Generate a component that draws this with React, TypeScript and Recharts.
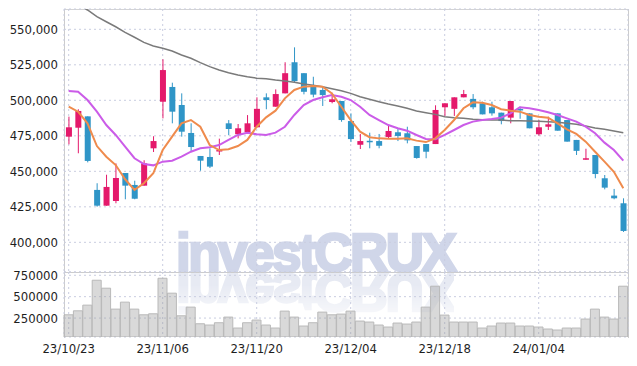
import { ComposedChart, Bar, Line, XAxis, YAxis, CartesianGrid } from 'recharts'

// trading days (KRX calendar)
const dates = [
  '23/10/23', '23/10/24', '23/10/25', '23/10/26', '23/10/27', '23/10/30', '23/10/31',
  '23/11/01', '23/11/02', '23/11/03', '23/11/06', '23/11/07', '23/11/08', '23/11/09', '23/11/10',
  '23/11/13', '23/11/14', '23/11/15', '23/11/16', '23/11/17', '23/11/20', '23/11/21', '23/11/22',
  '23/11/23', '23/11/24', '23/11/27', '23/11/28', '23/11/29', '23/11/30', '23/12/01',
  '23/12/04', '23/12/05', '23/12/06', '23/12/07', '23/12/08', '23/12/11', '23/12/12', '23/12/13',
  '23/12/14', '23/12/15', '23/12/18', '23/12/19', '23/12/20', '23/12/21', '23/12/22',
  '23/12/26', '23/12/27', '23/12/28', '24/01/02', '24/01/03', '24/01/04', '24/01/05',
  '24/01/08', '24/01/09', '24/01/10', '24/01/11', '24/01/12', '24/01/15', '24/01/16', '24/01/17',
]

const opens = [
  474400, 480700, 488700, 436900, 425800, 429100, 448800, 440400, 439900, 466200,
  499000, 509400, 496700, 477000, 460800, 460100, 464100, 483800, 476100, 477500,
  481000, 502100, 495500, 504900, 526800, 519100, 509600, 507300, 498800, 499500,
  485400, 468700, 471500, 471300, 474200, 477500, 476800, 467800, 469200, 469200,
  495100, 494000, 502100, 501000, 497900, 495100, 491300, 487800, 493900, 490800,
  476100, 481400, 490800, 486100, 472100, 458200, 461500, 445100, 432900, 427500,
]
const highs = [
  488500, 493700, 488700, 441600, 447600, 455600, 448800, 443400, 457800, 474700,
  528900, 512400, 504900, 483800, 460800, 466200, 473000, 486100, 483300, 489600,
  502100, 504900, 507700, 526800, 537300, 519100, 516600, 509600, 505300, 499500,
  490800, 476300, 477200, 476300, 482600, 480300, 481400, 467800, 469200, 496500,
  497900, 502100, 507300, 504400, 499000, 499000, 491300, 499500, 495500, 490800,
  486100, 488500, 490800, 486100, 472100, 465900, 461500, 447400, 437600, 431000,
]
const lows = [
  469000, 462700, 456300, 425100, 425800, 427500, 430300, 430300, 439900, 463600,
  487300, 483800, 474400, 463800, 450400, 452300, 461500, 475400, 473200, 477500,
  481000, 493700, 495500, 504900, 512900, 504200, 502100, 496000, 497900, 484900,
  470600, 465700, 466200, 466200, 472800, 471300, 469700, 458900, 459200, 469200,
  489000, 489000, 502100, 493700, 490100, 489200, 483100, 483800, 487000, 480300,
  475100, 479100, 478600, 470900, 461500, 458200, 445100, 437300, 430300, 407300,
]
const closes = [
  481000, 492500, 457300, 425800, 439000, 445300, 439900, 430700, 455600, 471300,
  521300, 492000, 477900, 467100, 457500, 453300, 465000, 479800, 480300, 483800,
  494000, 500200, 504400, 519100, 513500, 506000, 504000, 503700, 500700, 486100,
  472700, 471300, 471100, 468000, 478400, 474900, 471800, 459400, 463800, 493200,
  497900, 502100, 504400, 495100, 490100, 490800, 485400, 499500, 493500, 480300,
  481000, 483100, 478600, 470900, 464400, 459200, 448100, 438500, 431000, 408000,
]

const maShort = [
  495500, 492000, 483800, 467800, 460300, 454400, 444400, 436900, 441600, 448600,
  465000, 474400, 483800, 486100, 481400, 468500, 465000, 465500, 467800, 472100,
  481400, 488000, 492700, 501400, 507300, 509600, 510100, 509600, 504900, 495500,
  486100, 477900, 474000, 473200, 473000, 473000, 473200, 471600, 470600, 473200,
  479100, 486100, 494400, 498600, 498300, 496700, 493700, 492700, 492000, 489700,
  488500, 487800, 483800, 479600, 476300, 470900, 463800, 456800, 449700, 438000,
]
const maMid = [
  506600, 506100, 500200, 492000, 482600, 475600, 467300, 459200, 455100, 454200,
  456800, 457500, 460300, 463800, 466200, 466900, 468500, 472100, 475600, 477200,
  476100, 475600, 477200, 481400, 489700, 496700, 500200, 502100, 503700, 502500,
  500200, 495500, 489700, 486100, 482600, 480300, 478600, 475600, 472800, 472600,
  475600, 479100, 482600, 485000, 486100, 486800, 487800, 490800, 495100, 494400,
  493200, 491600, 489700, 487300, 485000, 481400, 476800, 470200, 465000, 457500,
]
const maLong = [
  572000, 567800, 563600, 558900, 555300, 551800, 547900, 544400, 540800, 538200,
  536600, 534700, 531900, 529600, 526500, 523700, 521300, 519400, 517800, 516600,
  515600, 515200, 514300, 513600, 512700, 511500, 510600, 509600, 508200, 506800,
  504900, 502500, 500700, 499000, 497400, 496000, 494400, 492500, 491300, 490100,
  488500, 487800, 487300, 486600, 486300, 486100, 486100, 485600, 485600, 485400,
  485200, 484900, 484500, 483800, 483100, 481900, 480500, 479600, 478400, 477200,
]

const volumes = [
  288400, 334900, 401200, 691900, 598800, 354600, 436000, 354600, 288400, 300000,
  715100, 540700, 276700, 377900, 183700, 168600, 195400, 261600, 133700, 195400,
  226700, 168600, 133700, 331400, 261600, 157000, 195400, 319800, 288400, 296500,
  331400, 215100, 203600, 168600, 145400, 191900, 180200, 203600, 377900, 622100,
  284900, 203600, 203600, 203600, 133700, 157000, 191900, 191900, 157000, 157000,
  145400, 122100, 110500, 133700, 133700, 238400, 354600, 261600, 238400, 622100,
]

const priceTicks = [400000, 425000, 450000, 475000, 500000, 525000, 550000]
const volumeTicks = [250000, 500000, 750000]
const dateTicks = [dates[0], dates[10], dates[20], dates[30], dates[40], dates[50]]

const UP = '#e4196b'
const DOWN = '#2f95c7'
const GRID = '#c9cde0'
const FONT = "'DejaVu Sans Condensed', 'Liberation Sans Narrow', sans-serif"
const tickStyle = { fontSize: 13, fill: '#1e1e1e', fontFamily: FONT }

const rows = dates.map((d, i) => ({
  date: d,
  open: opens[i],
  high: highs[i],
  low: lows[i],
  close: closes[i],
  range: [lows[i], highs[i]],
  maShort: maShort[i],
  maMid: maMid[i],
  maLong: maLong[i],
  volume: volumes[i],
}))

function Candle(props: any) {
  const { x, y, width, height, payload } = props
  if (x == null || y == null) return null
  const { open, close, high, low } = payload
  const color = close >= open ? UP : DOWN
  const cx = x + width / 2
  const span = high - low || 1
  const px = (v: number) => y + ((high - v) / span) * height
  const top = px(Math.max(open, close))
  const bot = px(Math.min(open, close))
  return (
    <g>
      <line x1={cx} x2={cx} y1={y} y2={y + height} stroke={color} strokeWidth={1} />
      <rect x={cx - 3} y={top} width={6} height={Math.max(bot - top, 1.5)} fill={color} />
    </g>
  )
}

const markStyle = {
  position: 'absolute' as const, left: 176, height: 53, lineHeight: '53px',
  fontFamily: "'Liberation Sans', Arial, sans-serif", fontWeight: 700, fontSize: 53,
  letterSpacing: -2.5, whiteSpace: 'nowrap' as const,
}

export default function App() {
  return (
    <div style={{ position: 'absolute', left: 0, top: 0, width: 637, height: 366, background: '#fff', overflow: 'hidden' }}>
      {/* watermark + its reflection */}
      <div style={{ ...markStyle, top: 226, color: '#d0d6e9', WebkitTextStroke: '2.5px #d0d6e9' }}>investCRUX</div>
      <div style={{
        ...markStyle, top: 266, color: '#e7eaf3', WebkitTextStroke: '2.5px #e7eaf3', transform: 'scaleY(-1)',
        WebkitMaskImage: 'linear-gradient(to top, rgba(0,0,0,1) 35%, rgba(0,0,0,0.25) 100%)',
      }}>investCRUX</div>

      {/* plot frame */}
      <div style={{ position: 'absolute', left: 64, top: 9, width: 563, height: 328, borderLeft: '1px solid #ccc', borderTop: '1px solid #d4d4d4', borderRight: '1px solid #ccc' }} />
      <div style={{ position: 'absolute', left: 64, top: 272, width: 564, height: 1, background: '#ccc' }} />

      <div style={{ position: 'absolute', left: 0, top: 0 }}>
        <ComposedChart width={637} height={272} data={rows} margin={{ top: 9, right: 9, bottom: 0, left: 0 }}>
          <CartesianGrid stroke={GRID} strokeDasharray="2 3" />
          <XAxis dataKey="date" hide ticks={dateTicks} />
          <YAxis
            domain={[379100, 564300]} allowDataOverflow ticks={priceTicks} width={64} interval={0}
            tickFormatter={(v: number) => v.toLocaleString('en-US')}
            tick={tickStyle} tickLine={false} axisLine={false} tickSize={4} tickMargin={2}
          />
          <Bar dataKey="range" shape={<Candle />} isAnimationActive={false} />
          <Line type="linear" dataKey="maLong" stroke="#7a7a7a" strokeWidth={1.5} dot={false} isAnimationActive={false} />
          <Line type="linear" dataKey="maMid" stroke="#cb5ce8" strokeWidth={2} dot={false} isAnimationActive={false} />
          <Line type="linear" dataKey="maShort" stroke="#ef8b4d" strokeWidth={2} dot={false} isAnimationActive={false} />
        </ComposedChart>
      </div>

      <div style={{ position: 'absolute', left: 0, top: 262 }}>
        <ComposedChart width={637} height={104} data={rows} margin={{ top: 10, right: 9, bottom: 0, left: 0 }} barCategoryGap={0}>
          <CartesianGrid stroke={GRID} strokeDasharray="2 3" />
          <XAxis dataKey="date" ticks={dateTicks} height={29} tick={tickStyle} tickLine={false} axisLine={false} tickSize={5} tickMargin={2} />
          <YAxis
            domain={[29000, 788000]} allowDataOverflow ticks={volumeTicks} width={64} interval={0}
            tick={tickStyle} tickLine={false} axisLine={false} tickSize={4} tickMargin={2}
          />
          <Bar dataKey="volume" fill="rgba(150,150,150,0.36)" stroke="#b9b9b9" strokeWidth={1} isAnimationActive={false} />
        </ComposedChart>
      </div>
    </div>
  )
}
